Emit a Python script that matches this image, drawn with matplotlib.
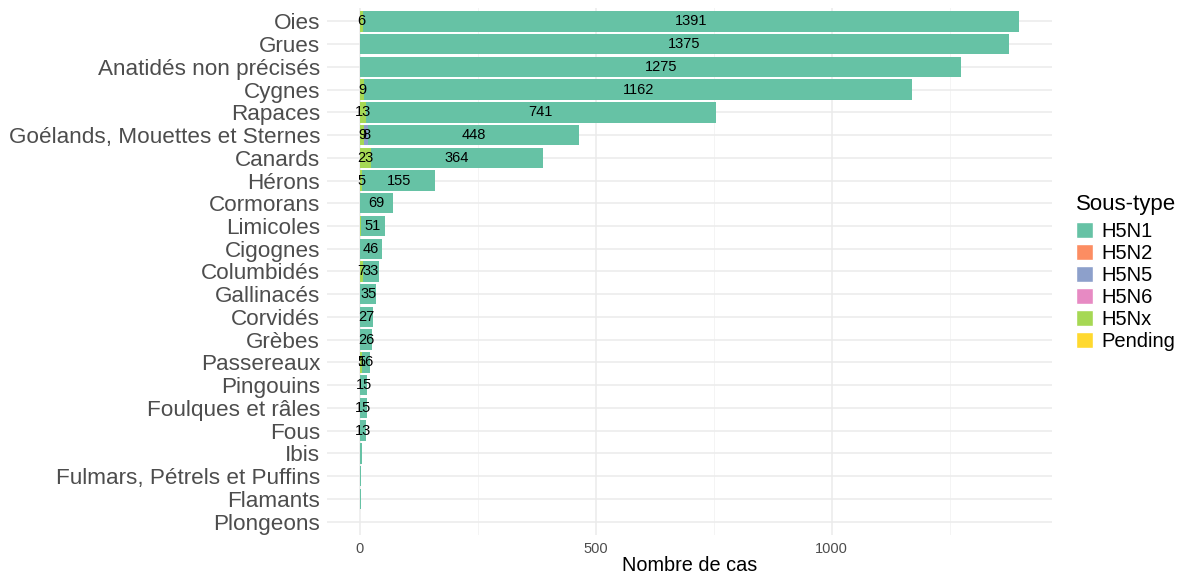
import matplotlib.pyplot as plt
from matplotlib.patches import Patch
import numpy as np

plt.rcParams['font.family'] = ['Liberation Sans', 'DejaVu Sans']

# Données
groupes = ["Oies", "Grues", "Anatidés non précisés", "Cygnes", "Rapaces",
           "Goélands, Mouettes et Sternes", "Canards", "Hérons", "Cormorans",
           "Limicoles", "Cigognes", "Columbidés", "Gallinacés", "Corvidés",
           "Grèbes", "Passereaux", "Pingouins", "Foulques et râles", "Fous",
           "Ibis", "Fulmars, Pétrels et Puffins", "Flamants", "Plongeons"]

h5n1 = [1391, 1375, 1275, 1162, 741, 448, 364, 155, 69, 51, 46, 33, 35, 27,
        26, 16, 15, 15, 13, 4, 3, 2, 1]
h5n2 = [0] * 23
h5n5 = [0, 0, 0, 0, 0, 8, 0, 0, 0, 0, 0, 0, 0, 0, 0, 0, 0, 0, 0, 0, 0, 0, 0]
h5n6 = [0] * 23
h5nx = [6, 0, 0, 9, 13, 9, 23, 5, 1, 2, 0, 7, 0, 1, 0, 5, 1, 0, 0, 0, 0, 0, 0]
pending = [0] * 23

sous_types = ["H5N1", "H5N2", "H5N5", "H5N6", "H5Nx", "Pending"]
couleurs = ["#66C2A5", "#FC8D62", "#8DA0CB", "#E78AC3", "#A6D854", "#FFD92F"]

# ordre d'empilement depuis zéro (comme ggplot)
series = {"Pending": pending, "H5Nx": h5nx, "H5N6": h5n6,
          "H5N5": h5n5, "H5N2": h5n2, "H5N1": h5n1}
ordre = ["Pending", "H5Nx", "H5N6", "H5N5", "H5N2", "H5N1"]

n = len(groupes)
y = np.arange(n)[::-1]

fig = plt.figure(figsize=(11.77, 5.73), dpi=100)
ax = fig.add_axes([0.2778, 0.0658, 0.6160, 0.9208])

gauche = np.zeros(n)
for st in ordre:
    vals = np.array(series[st], dtype=float)
    col = couleurs[sous_types.index(st)]
    ax.barh(y, vals, left=gauche, height=0.9, color=col, zorder=2)
    for yi, l, v in zip(y, gauche, vals):
        if v >= 5:
            ax.text(l + v / 2, yi, f"{int(v)}", ha="center", va="center",
                    fontsize=10.5, color="black", zorder=3)
    gauche += vals

total_max = gauche.max()
ax.set_xlim(-0.05 * total_max, total_max * 1.05)
ax.set_ylim(-0.6, n - 1 + 0.6)

ax.set_yticks(y)
ax.set_yticklabels(groupes, fontsize=16.2, color="#4D4D4D")
ax.set_xticks([0, 500, 1000])
ax.set_xticks([250, 750, 1250], minor=True)
ax.tick_params(axis="x", labelsize=10.5, colors="#4D4D4D", length=0, pad=5)
ax.tick_params(axis="x", which="minor", length=0)
ax.tick_params(axis="y", length=0, pad=5)
ax.set_xlabel("Nombre de cas", fontsize=14.3, labelpad=0)

ax.grid(True, which="major", color="#EBEBEB", linewidth=1.1, zorder=0)
ax.grid(True, which="minor", axis="x", color="#F2F2F2", linewidth=0.6, zorder=0)
ax.set_axisbelow(True)
for s in ax.spines.values():
    s.set_visible(False)

handles = [Patch(facecolor=c, edgecolor="white", label=s)
           for s, c in zip(sous_types, couleurs)]
leg = fig.legend(handles=handles, title="Sous-type", loc="center left",
                 bbox_to_anchor=(0.907, 0.525), frameon=False, fontsize=14.5,
                 title_fontsize=16, handlelength=0.85, handleheight=0.85,
                 handletextpad=0.45, labelspacing=0.15, borderaxespad=0)
leg._legend_box.align = "left"
leg._legend_box.sep = 5

plt.savefig("out.png", dpi=100)
